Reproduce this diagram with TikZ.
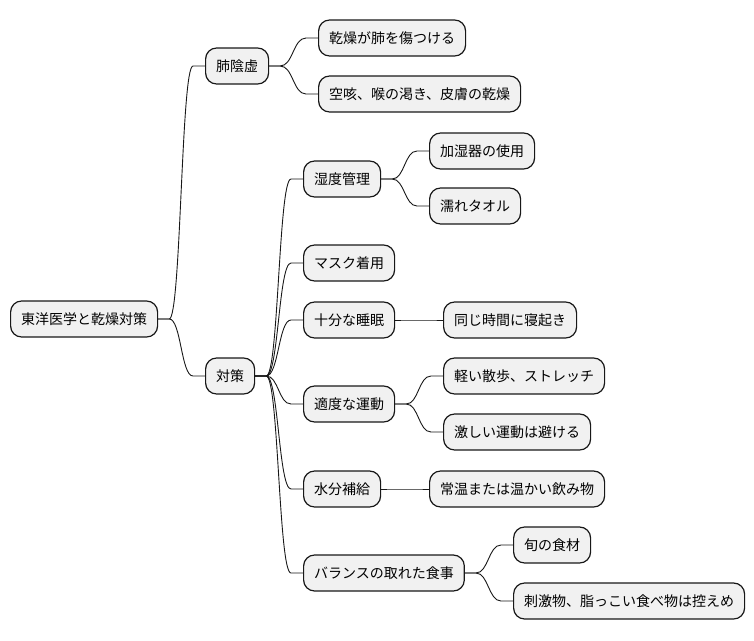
\documentclass[tikz,border=0pt]{standalone}
\usepackage{fontspec}
\setmainfont{Noto Sans CJK JP}
\usetikzlibrary{calc}
\definecolor{boxfill}{HTML}{F1F1F1}
\definecolor{boxline}{HTML}{181818}
\tikzset{
  mm/.style={draw=boxline, fill=boxfill, line width=1.2pt, rounded corners=11pt,
    minimum height=36pt, inner xsep=10.5pt, inner ysep=0pt, anchor=west,
    font=\fontsize{14pt}{16pt}\selectfont, text=black},
  link/.style={draw=boxline, line width=0.9pt}
}
\newcommand{\mmlink}[2]{%
  \path (#1.east) ++(11pt,0) coordinate (mmA) (#2.west) ++(-12pt,0) coordinate (mmB);
  \draw[link] (#1.east) -- (mmA) .. controls ($(mmA)!0.5!(mmB|-mmA)$) and ($(mmB)!0.5!(mmA|-mmB)$) .. (mmB) -- (#2.west);}
\begin{document}
\begin{tikzpicture}[x=1pt,y=-1pt]
\useasboundingbox (0,0) rectangle (754,640);
\node[mm] (root) at (10,319) {東洋医学と乾燥対策};
\node[mm] (hai) at (205,66) {肺陰虚};
\node[mm] (hai1) at (318,38) {乾燥が肺を傷つける};
\node[mm] (hai2) at (318,94) {空咳、喉の渇き、皮膚の乾燥};
\node[mm] (taisaku) at (205,376) {対策};
\node[mm] (shitsudo) at (303,179) {湿度管理};
\node[mm] (kashitsu) at (429,151) {加湿器の使用};
\node[mm] (nure) at (429,206) {濡れタオル};
\node[mm] (mask) at (303,263) {マスク着用};
\node[mm] (suimin) at (303,320) {十分な睡眠};
\node[mm] (onaji) at (443,320) {同じ時間に寝起き};
\node[mm] (undo) at (303,404) {適度な運動};
\node[mm] (karui) at (443,376) {軽い散歩、ストレッチ};
\node[mm] (hageshii) at (443,432) {激しい運動は避ける};
\node[mm] (suibun) at (303,489) {水分補給};
\node[mm] (jouon) at (429,489) {常温または温かい飲み物};
\node[mm] (balance) at (303,573) {バランスの取れた食事};
\node[mm] (shun) at (513,545) {旬の食材};
\node[mm] (shigeki) at (513,601) {刺激物、脂っこい食べ物は控えめ};
\mmlink{root}{hai}
\mmlink{root}{taisaku}
\mmlink{hai}{hai1}
\mmlink{hai}{hai2}
\mmlink{taisaku}{shitsudo}
\mmlink{taisaku}{mask}
\mmlink{taisaku}{suimin}
\mmlink{taisaku}{undo}
\mmlink{taisaku}{suibun}
\mmlink{taisaku}{balance}
\mmlink{shitsudo}{kashitsu}
\mmlink{shitsudo}{nure}
\mmlink{suimin}{onaji}
\mmlink{undo}{karui}
\mmlink{undo}{hageshii}
\mmlink{suibun}{jouon}
\mmlink{balance}{shun}
\mmlink{balance}{shigeki}
\end{tikzpicture}
\end{document}
